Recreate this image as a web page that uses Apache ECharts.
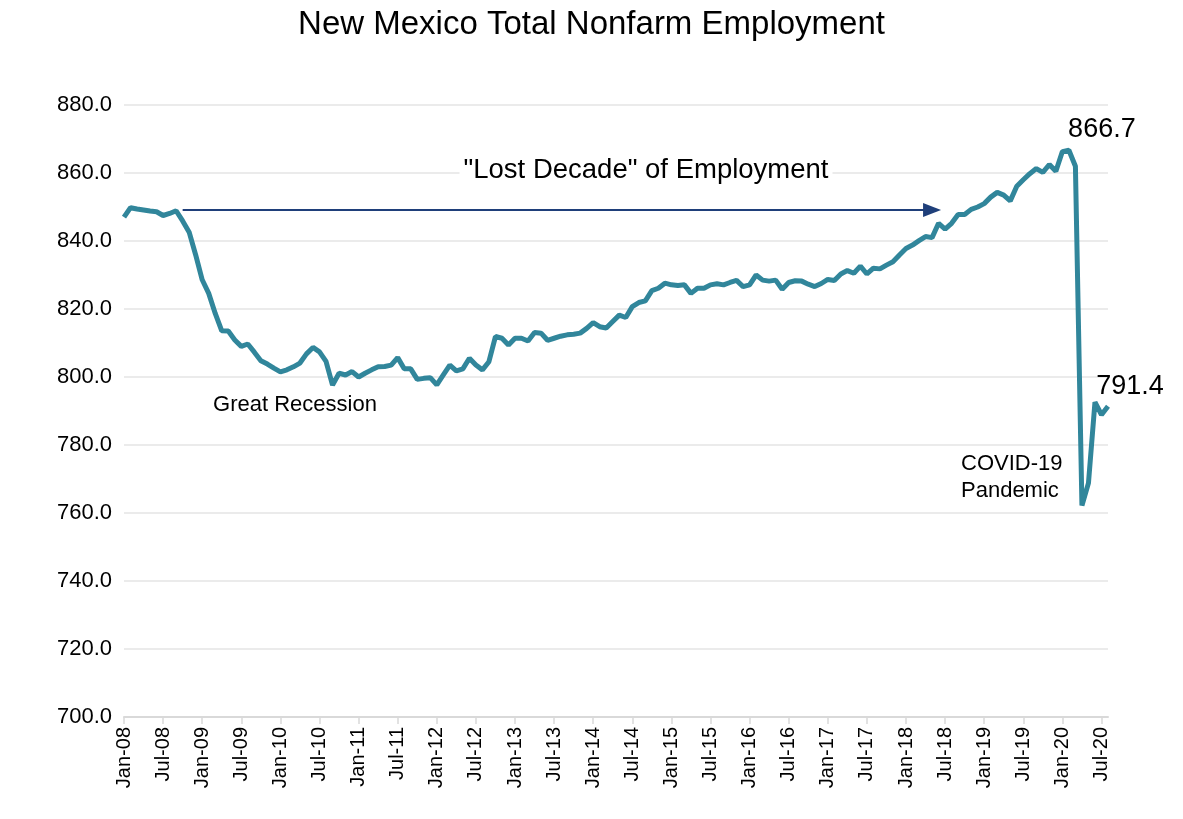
<!DOCTYPE html>
<html>
<head>
<meta charset="utf-8">
<script src="https://cdn.jsdelivr.net/npm/echarts@6/dist/echarts.min.js"></script>
<style>
  html, body { margin: 0; padding: 0; background: #fff; }
  #chart { width: 1183px; height: 819px; }
</style>
</head>
<body>
<div id="chart"></div>
<script>
// ---- data ----
const monthNames = ["Jan","Feb","Mar","Apr","May","Jun","Jul","Aug","Sep","Oct","Nov","Dec"];
const years = ["08","09","10","11","12","13","14","15","16","17","18","19","20"];
const lastMonthIndex2020 = 7; // Aug-20

const emp2008 = [847.0, 849.8, 849.4, 849.1, 848.8, 848.6, 847.5, 848.1, 848.9, 845.9, 842.6, 835.9];
const emp2009 = [828.6, 824.6, 818.7, 813.6, 813.5, 810.9, 809.0, 809.7, 807.3, 804.8, 803.8, 802.6];
const emp2010 = [801.5, 802.1, 803.0, 804.1, 806.8, 808.7, 807.4, 804.6, 797.6, 801.1, 800.6, 801.6];
const emp2011 = [800.0, 801.1, 802.1, 803.0, 803.1, 803.5, 805.7, 802.4, 802.4, 799.3, 799.6, 799.8];
const emp2012 = [797.7, 800.6, 803.5, 801.8, 802.4, 805.5, 803.5, 802.1, 804.5, 811.9, 811.4, 809.4];
const emp2013 = [811.4, 811.4, 810.6, 813.1, 812.9, 810.8, 811.4, 812.0, 812.4, 812.6, 812.9, 814.3];
const emp2014 = [816.0, 814.8, 814.4, 816.3, 818.2, 817.5, 820.7, 821.9, 822.4, 825.4, 826.1, 827.6];
const emp2015 = [827.1, 826.9, 827.1, 824.6, 826.1, 826.1, 827.1, 827.4, 827.1, 827.8, 828.4, 826.6];
const emp2016 = [827.1, 830.0, 828.5, 828.2, 828.5, 825.8, 827.8, 828.3, 828.2, 827.3, 826.6, 827.5];
const emp2017 = [828.7, 828.4, 830.3, 831.3, 830.5, 832.6, 830.3, 832.0, 831.8, 832.9, 833.9, 835.9];
const emp2018 = [837.8, 838.8, 840.1, 841.3, 841.0, 845.2, 843.5, 845.2, 847.8, 847.8, 849.3, 850.0];
const emp2019 = [851.0, 852.9, 854.3, 853.5, 851.8, 856.1, 858.0, 859.8, 861.3, 860.2, 862.5, 860.5];
const emp2020 = [866.3, 866.7, 862.0, 762.2, 768.8, 792.6, 788.9, 791.4];

const tickLabels = ["Jan-08","Jul-08","Jan-09","Jul-09","Jan-10","Jul-10","Jan-11","Jul-11",
  "Jan-12","Jul-12","Jan-13","Jul-13","Jan-14","Jul-14","Jan-15","Jul-15","Jan-16","Jul-16",
  "Jan-17","Jul-17","Jan-18","Jul-18","Jan-19","Jul-19","Jan-20","Jul-20"];

const yTicks = [700, 720, 740, 760, 780, 800, 820, 840, 860, 880];

const peakLabel = { cat: "Feb-20", value: 866.7 };
const lastLabel = { cat: "Aug-20", value: 791.4 };
const arrowFrom = { cat: "Oct-08", value: 849.1 };
const arrowTo = { cat: "May-18", value: 849.1 };

// ---- build ----
const categories = [];
years.forEach((y, yi) => {
  monthNames.forEach((m, mi) => {
    if (yi === years.length - 1 && mi > lastMonthIndex2020) return;
    categories.push(m + "-" + y);
  });
});
const values = [].concat(emp2008, emp2009, emp2010, emp2011, emp2012, emp2013, emp2014,
  emp2015, emp2016, emp2017, emp2018, emp2019, emp2020);

const FONT = '"Liberation Sans", Arial, sans-serif';
const showTick = (idx) => tickLabels.indexOf(categories[idx]) >= 0;

const chart = echarts.init(document.getElementById('chart'), null, { renderer: 'canvas' });
chart.setOption({
  backgroundColor: '#ffffff',
  animation: false,
  title: {
    text: 'New Mexico Total Nonfarm Employment',
    left: 'center',
    top: 3,
    textStyle: { fontFamily: FONT, fontSize: 33, fontWeight: 'normal', color: '#000' }
  },
  grid: { left: 124, right: 75, top: 105, bottom: 102, containLabel: false },
  xAxis: {
    type: 'category',
    data: categories,
    boundaryGap: false,
    axisLine: { show: true, lineStyle: { color: '#d9d9d9', width: 2 } },
    axisTick: { show: true, interval: (i) => showTick(i), length: 7, lineStyle: { color: '#d9d9d9', width: 1.5 } },
    axisLabel: {
      interval: (i) => showTick(i),
      rotate: 90,
      margin: 10,
      fontFamily: FONT,
      fontSize: 20,
      color: '#000'
    },
    splitLine: { show: false }
  },
  yAxis: {
    type: 'value',
    min: yTicks[0],
    max: yTicks[yTicks.length - 1],
    interval: yTicks[1] - yTicks[0],
    axisLine: { show: false },
    axisTick: { show: false },
    axisLabel: {
      margin: 12,
      fontFamily: FONT,
      fontSize: 22,
      color: '#000',
      formatter: (v) => v.toFixed(1)
    },
    splitLine: { show: true, lineStyle: { color: '#ebebeb', width: 2 } }
  },
  series: [{
    type: 'line',
    data: values,
    symbol: 'none',
    smooth: false,
    lineStyle: { color: '#31869b', width: 5 },
    z: 3,
    markLine: {
      silent: true,
      symbol: ['none', 'triangle'],
      symbolSize: [14, 18],
      lineStyle: { color: '#1f3f7a', width: 2, type: 'solid' },
      label: { show: false },
      data: [[
        { coord: [arrowFrom.cat, arrowFrom.value] },
        { coord: [arrowTo.cat, arrowTo.value] }
      ]],
      z: 2
    },
    markPoint: {
      silent: true,
      symbol: 'circle',
      symbolSize: 0,
      data: [
        { coord: [peakLabel.cat, peakLabel.value], value: peakLabel.value,
          label: { show: true, position: 'inside', offset: [33, -21], formatter: peakLabel.value.toFixed(1),
                   fontFamily: FONT, fontSize: 27, color: '#000' } },
        { coord: [lastLabel.cat, lastLabel.value], value: lastLabel.value,
          label: { show: true, position: 'inside', offset: [22, -20], formatter: lastLabel.value.toFixed(1),
                   fontFamily: FONT, fontSize: 27, color: '#000' } }
      ]
    }
  }],
  graphic: [
    { type: 'text', x: 646, y: 170, z: 10, style: { text: '"Lost Decade" of Employment', fontFamily: FONT, fontSize: 27.5, fill: '#000', textAlign: 'center', textVerticalAlign: 'middle', backgroundColor: '#fff', padding: [2, 4] } },
    { type: 'text', x: 295, y: 405, z: 10, style: { text: 'Great Recession', fontFamily: FONT, fontSize: 22, fill: '#000', textAlign: 'center', textVerticalAlign: 'middle' } },
    { type: 'text', x: 961, y: 477, z: 10, style: { text: 'COVID-19\nPandemic', fontFamily: FONT, fontSize: 22, lineHeight: 27, fill: '#000', textAlign: 'left', textVerticalAlign: 'middle' } }
  ]
});
</script>
</body>
</html>
